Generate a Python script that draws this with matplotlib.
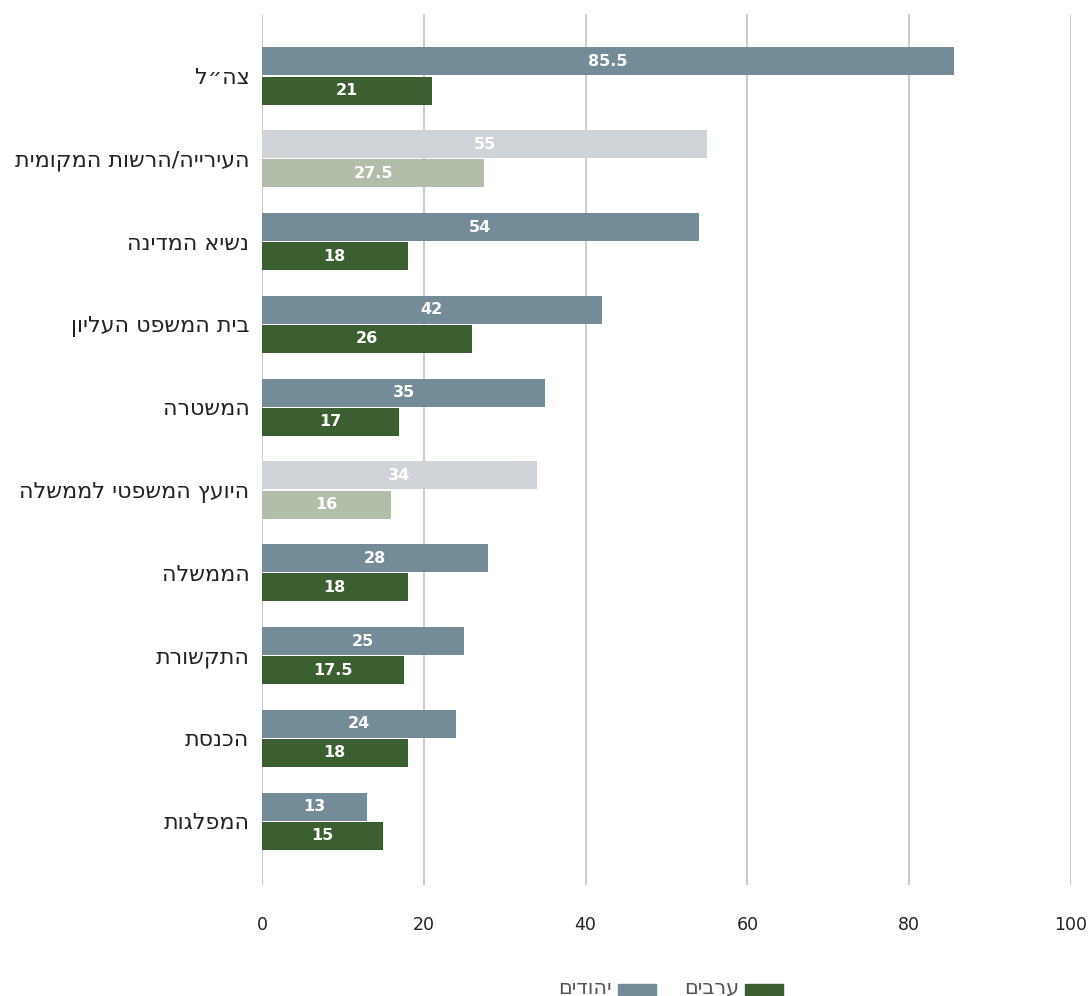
import numpy as np
import matplotlib
matplotlib.use('Agg')
import matplotlib.pyplot as plt
from matplotlib.patches import Rectangle

plt.rcParams['font.family'] = ['DejaVu Sans']

# categories (top to bottom) and values
categories = ['צה״ל', 'העירייה/הרשות המקומית', 'נשיא המדינה', 'בית המשפט העליון',
              'המשטרה', 'היועץ המשפטי לממשלה', 'הממשלה', 'התקשורת', 'הכנסת', 'המפלגות']
jews = [85.5, 55, 54, 42, 35, 34, 28, 25, 24, 13]
arabs = [21, 27.5, 18, 26, 17, 16, 18, 17.5, 18, 15]
jews_labels = ['85.5', '55', '54', '42', '35', '34', '28', '25', '24', '13']
arabs_labels = ['21', '27.5', '18', '26', '17', '16', '18', '17.5', '18', '15']
faded = [1, 5]

col_jews = '#748b98'
col_arabs = '#3b5f30'
col_jews_fade = '#d0d3d7'
col_arabs_fade = '#b3beaa'


def rtl(s):
    # matplotlib has no bidi, so flip the hebrew by hand
    return s[::-1]


fig = plt.figure(figsize=(10.91, 9.96), dpi=100)
ax = fig.add_axes([0.2401, 0.1115, 0.7416, 0.8745])

y = np.arange(len(categories))
h = 0.338
off = 0.176
for i in range(len(categories)):
    cj = col_jews_fade if i in faded else col_jews
    ca = col_arabs_fade if i in faded else col_arabs
    ax.barh(y[i] - off, jews[i], height=h, color=cj, zorder=3)
    ax.barh(y[i] + off, arabs[i], height=h, color=ca, zorder=3)
    ax.text(jews[i] / 2, y[i] - off, jews_labels[i], ha='center', va='center',
            color='white', fontsize=11.5, fontweight='bold', zorder=4)
    ax.text(arabs[i] / 2, y[i] + off, arabs_labels[i], ha='center', va='center',
            color='white', fontsize=11.5, fontweight='bold', zorder=4)

ax.set_xlim(0, 100)
ax.set_ylim(9.77, -0.75)
ax.set_xticks([0, 20, 40, 60, 80, 100])
ax.tick_params(axis='x', length=0, pad=22, labelsize=12.5, colors='#222222')
ax.set_yticks(y)
ax.set_yticklabels([rtl(c) for c in categories], fontsize=16, color='#222222')
ax.tick_params(axis='y', length=0, pad=9)
ax.grid(axis='x', color='#c8c8c8', linewidth=1.3, zorder=0)
for s in ax.spines.values():
    s.set_visible(False)

# legend drawn by hand, right to left: box then text
legend_items = [('ערבים', col_arabs), ('יהודים', col_jews)]
lx = [0.6829, 0.5665]
for (name, col), x0 in zip(legend_items, lx):
    fig.patches.append(Rectangle((x0, 0.0), 0.0345, 0.0125, transform=fig.transFigure,
                                 color=col))
    fig.text(x0 - 0.0055, 0.0085, rtl(name), ha='right', va='center',
             fontsize=15, color='#555555')

fig.savefig('out.png', dpi=100)
